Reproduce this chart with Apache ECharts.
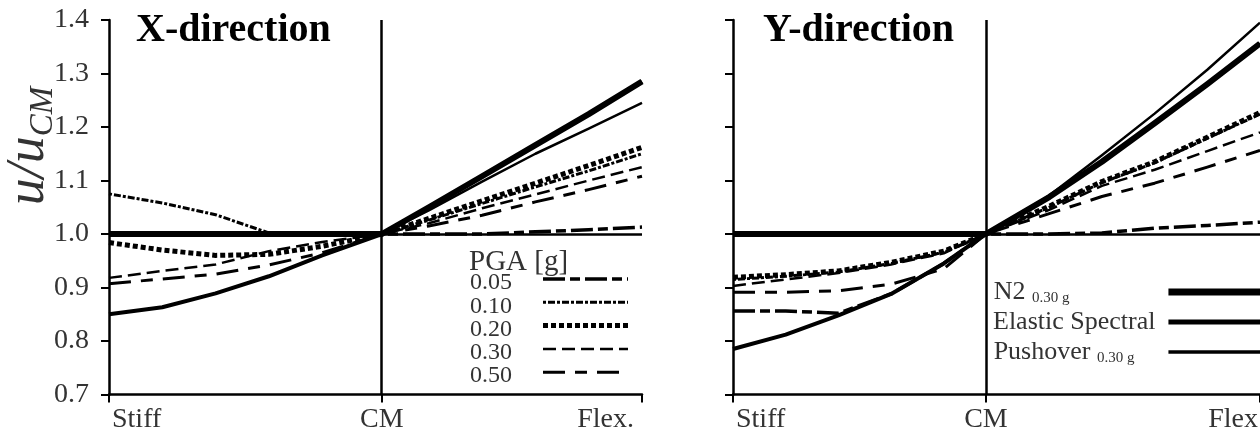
<!DOCTYPE html>
<html>
<head>
<meta charset="utf-8">
<script src="https://cdn.jsdelivr.net/npm/echarts@6/dist/echarts.min.js"></script>
<style>html,body{margin:0;padding:0;background:#fff}#c{width:1260px;height:434px}</style>
</head>
<body>
<div id="c"></div>
<script>
// ---- data (x = position across plan, 0 = stiff edge, 1 = flexible edge) ----
const panelTitles = ['X-direction', 'Y-direction'];
const cmPos = [0.512, 0.48];
const xLabelsX = ['Stiff', 'CM', 'Flex.'];
const xLabelsY = ['Stiff', 'CM', 'Flex'];
const posX = [0, 0.1, 0.2, 0.3, 0.4, 0.512, 0.6, 0.7, 0.8, 0.9, 1.0];
const posY = [0, 0.1, 0.2, 0.3, 0.4, 0.48, 0.6, 0.7, 0.8, 0.9, 1.0];
const pgaNames = ['0.05', '0.10', '0.20', '0.30', '0.50'];
const methodNames = ['N2', 'Elastic Spectral', 'Pushover'];
const methodMain = ['N2 ', 'Elastic Spectral', 'Pushover '];
const methodSub = ['0.30 g', '', '0.30 g'];
const yMin = 0.7, yMax = 1.4, yStep = 0.1;

// X-direction
const xN2       = [1.000, 1.000, 1.000, 1.000, 1.000, 1.000, 1.050, 1.108, 1.166, 1.224, 1.285];
const xElastic  = [0.850, 0.863, 0.889, 0.921, 0.960, 1.000, 1.050, 1.108, 1.166, 1.224, 1.285];
const xPushover = [1.000, 1.000, 1.000, 1.000, 1.000, 1.000, 1.044, 1.098, 1.150, 1.197, 1.245];
const xPGA005   = [1.000, 1.000, 1.000, 1.000, 1.000, 1.000, 1.000, 1.000, 1.004, 1.008, 1.013];
const xPGA010   = [1.075, 1.058, 1.036, 1.002, 1.000, 1.000, 1.026, 1.057, 1.088, 1.118, 1.150];
const xPGA020   = [0.984, 0.970, 0.960, 0.962, 0.977, 1.000, 1.029, 1.062, 1.095, 1.128, 1.162];
const xPGA030   = [0.918, 0.931, 0.943, 0.968, 0.985, 1.000, 1.020, 1.048, 1.074, 1.100, 1.125];
const xPGA050   = [0.907, 0.916, 0.925, 0.942, 0.965, 1.000, 1.015, 1.035, 1.060, 1.083, 1.108];
// Y-direction
const yN2       = [1.000, 1.000, 1.000, 1.000, 1.000, 1.000, 1.069, 1.135, 1.207, 1.280, 1.356];
const yElastic  = [0.785, 0.812, 0.848, 0.888, 0.945, 1.000, 1.069, 1.135, 1.207, 1.280, 1.356];
const yPushover = [1.000, 1.000, 1.000, 1.000, 1.000, 1.000, 1.072, 1.147, 1.225, 1.307, 1.395];
const yPGA005   = [0.856, 0.856, 0.852, 0.888, 0.945, 1.000, 1.000, 1.002, 1.011, 1.016, 1.022];
const yPGA010   = [0.915, 0.921, 0.929, 0.945, 0.966, 1.000, 1.050, 1.096, 1.133, 1.179, 1.224];
const yPGA020   = [0.919, 0.924, 0.931, 0.947, 0.968, 1.000, 1.052, 1.098, 1.135, 1.181, 1.227];
const yPGA030   = [0.903, 0.915, 0.927, 0.943, 0.964, 1.000, 1.045, 1.090, 1.120, 1.155, 1.190];
const yPGA050   = [0.891, 0.891, 0.894, 0.906, 0.935, 1.000, 1.038, 1.070, 1.095, 1.125, 1.156];

// ---- styles ----
const FONT = 'Liberation Serif';
const TXT = '#333';
const pgaStyles = [
  {width: 3.5, type: [22, 5, 10, 5]},
  {width: 3, type: [3, 2, 7, 2]},
  {width: 5, type: [5, 3]},
  {width: 2.5, type: [13, 6]},
  {width: 3, type: [22, 10, 12, 10]}
];
const methodStyles = [{width: 6}, {width: 4}, {width: 2.5}];

function zip(xs, ys) { return xs.map((x, i) => [x, ys[i]]); }
const mctx = document.createElement('canvas').getContext('2d');
function textW(t, size) { mctx.font = size + 'px "' + FONT + '"'; return mctx.measureText(t).width; }

const series = [];
function addPanel(idx, pos, pga, methods) {
  pga.forEach((vals, k) => {
    const s = {
      name: pgaNames[k], type: 'line', xAxisIndex: idx, yAxisIndex: idx,
      data: zip(pos, vals), symbol: 'none', smooth: false,
      lineStyle: Object.assign({color: '#000', cap: 'butt', join: 'round'}, pgaStyles[k]),
      itemStyle: {color: '#000'}, z: 2
    };
    if (k === 0) {
      s.markLine = {
        silent: true, symbol: 'none', label: {show: false},
        lineStyle: {color: '#000', width: 2.5, type: 'solid'},
        emphasis: {disabled: true},
        data: [{xAxis: cmPos[idx]}, {yAxis: 1.0}]
      };
    }
    series.push(s);
  });
  [2, 1, 0].forEach(k => {
    series.push({
      name: methodNames[k], type: 'line', xAxisIndex: idx, yAxisIndex: idx,
      data: zip(pos, methods[k]), symbol: 'none', smooth: false,
      lineStyle: Object.assign({color: '#000', type: 'solid', join: 'round'}, methodStyles[k]),
      itemStyle: {color: '#000'}, z: 3
    });
  });
}
addPanel(0, posX, [xPGA005, xPGA010, xPGA020, xPGA030, xPGA050], [xN2, xElastic, xPushover]);
addPanel(1, posY, [yPGA005, yPGA010, yPGA020, yPGA030, yPGA050], [yN2, yElastic, yPushover]);

function xAxis(idx, labels) {
  const vals = [0, cmPos[idx], 1];
  return {
    type: 'value', gridIndex: idx, min: 0, max: 1,
    axisLine: {show: true, lineStyle: {color: '#000', width: 2.5}},
    axisTick: {show: true, customValues: vals, length: 8, lineStyle: {color: '#000', width: 2}},
    axisLabel: {
      show: true, customValues: vals, margin: 11,
      alignMinLabel: 'left', alignMaxLabel: 'right',
      fontFamily: FONT, fontSize: 28, color: TXT,
      formatter: v => {
        const i = vals.findIndex(t => Math.abs(t - v) < 1e-6);
        if (i === 0) return '{a|' + labels[0] + '}';
        if (i === 2) return '{b|' + labels[2] + '}';
        return labels[i];
      },
      rich: {
        a: {fontFamily: FONT, fontSize: 28, color: TXT, padding: [0, 0, 0, 3]},
        b: {fontFamily: FONT, fontSize: 28, color: TXT, padding: [0, idx === 0 ? 8 : 2, 0, 0]}
      }
    },
    splitLine: {show: false}
  };
}
function yAxis(idx, showLabels) {
  return {
    type: 'value', gridIndex: idx, min: yMin, max: yMax, interval: yStep,
    axisLine: {show: true, lineStyle: {color: '#000', width: 2.5}},
    axisTick: {show: true, length: 8, lineStyle: {color: '#000', width: 2}},
    axisLabel: {show: showLabels, margin: 20, fontFamily: FONT, fontSize: 28, color: TXT,
      formatter: v => v.toFixed(1)},
    splitLine: {show: false}
  };
}

const pgaLegendData = pgaNames.map((n, k) => ({name: n, lineStyle: {width: pgaStyles[k].width, type: pgaStyles[k].type}}));
const methodLegendData = methodNames.map((n, k) => ({name: n, lineStyle: {width: methodStyles[k].width + 1, type: 'solid'}}));
const RIGHT_TEXT_W = 170;
const methodRich = {
  m: {fontFamily: FONT, fontSize: 26, color: TXT},
  s: {fontFamily: FONT, fontSize: 15, color: TXT, verticalAlign: 'bottom'}
};
methodNames.forEach((n, k) => {
  const used = textW(methodMain[k], 26) + (methodSub[k] ? textW(methodSub[k], 15) : 0);
  methodRich['p' + k] = {fontSize: 4, width: Math.max(1, Math.round(RIGHT_TEXT_W - used))};
});

const chart = echarts.init(document.getElementById('c'), null, {renderer: 'canvas'});
chart.setOption({
  animation: false,
  backgroundColor: '#fff',
  grid: [
    {left: 109, top: 20, width: 533, height: 374.5, outerBoundsMode: 'none', containLabel: false},
    {left: 733, top: 20, width: 527, height: 374.5, outerBoundsMode: 'none', containLabel: false}
  ],
  xAxis: [xAxis(0, xLabelsX), xAxis(1, xLabelsY)],
  yAxis: [yAxis(0, true), yAxis(1, false)],
  title: [
    {text: panelTitles[0], left: 131, top: 6, textStyle: {fontFamily: FONT, fontWeight: 'bold', fontSize: 40, color: '#000'}},
    {text: panelTitles[1], left: 758, top: 6, textStyle: {fontFamily: FONT, fontWeight: 'bold', fontSize: 40, color: '#000'}},
    {text: 'PGA [g]', left: 464, top: 243, textStyle: {fontFamily: FONT, fontWeight: 'normal', fontSize: 29, color: TXT}}
  ],
  legend: [
    {
      data: pgaLegendData, orient: 'vertical', align: 'right', left: 470, top: 263,
      padding: 0, itemWidth: 85, itemHeight: 12, itemGap: -8.7, selectedMode: false,
      itemStyle: {opacity: 0},
      formatter: name => '{t|' + name + '}',
      textStyle: {fontFamily: FONT, fontSize: 24, color: TXT,
        rich: {t: {fontFamily: FONT, fontSize: 24, color: TXT, width: 68, align: 'left', lineHeight: 17.3, padding: [8, 0, 0, 0]}}}
    },
    {
      data: methodLegendData, orient: 'vertical', align: 'right', left: 993, top: 278,
      padding: 0, itemWidth: 110, itemHeight: 12, itemGap: 2, selectedMode: false,
      itemStyle: {opacity: 0},
      formatter: name => {
        const k = methodNames.indexOf(name);
        return '{m|' + methodMain[k] + '}' + (methodSub[k] ? '{s|' + methodSub[k] + '}' : '') + '{p' + k + '| }';
      },
      textStyle: {fontFamily: FONT, fontSize: 26, color: TXT, lineHeight: 28, rich: methodRich}
    }
  ],
  graphic: [{
    type: 'text', x: 29, y: 146, rotation: Math.PI / 2,
    style: {
      text: '{i|u/u}{s|CM}', textAlign: 'center', textVerticalAlign: 'middle',
      rich: {
        i: {fontFamily: FONT, fontStyle: 'italic', fontSize: 54, fill: '#333'},
        s: {fontFamily: FONT, fontStyle: 'italic', fontSize: 33, fill: '#333', verticalAlign: 'bottom', padding: [0, 0, -4, 0]}
      }
    }
  }],
  series: series
});
</script>
</body>
</html>
